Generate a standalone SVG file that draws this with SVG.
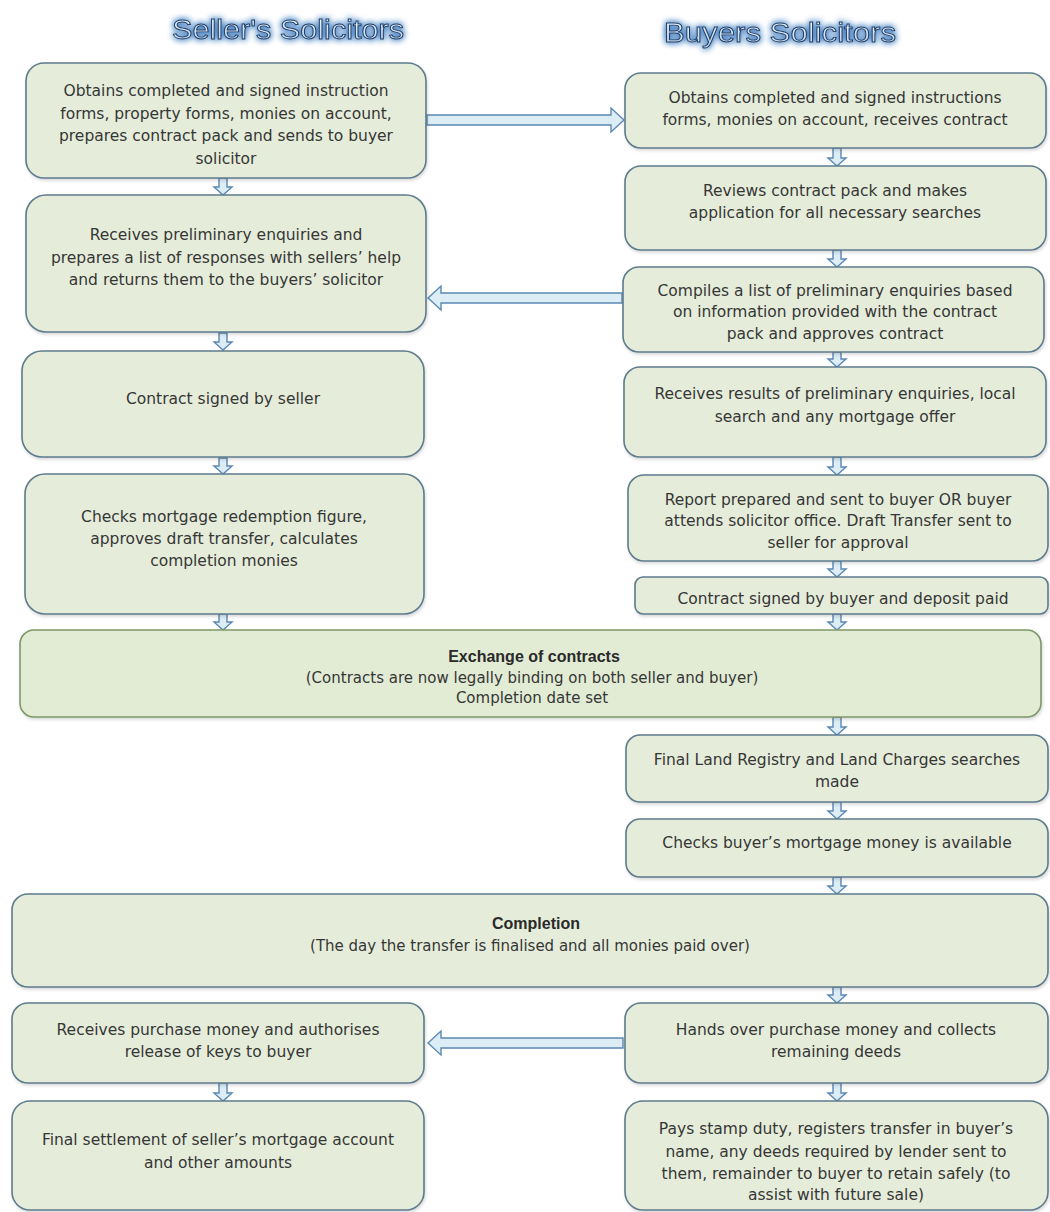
<svg xmlns="http://www.w3.org/2000/svg" width="1050" height="1212" viewBox="0 0 1050 1212">
<defs>
<filter id="glow" x="-20%" y="-60%" width="140%" height="220%">
<feGaussianBlur in="SourceAlpha" stdDeviation="3" result="b"/>
<feFlood flood-color="#2f6fb8" flood-opacity="0.9"/>
<feComposite in2="b" operator="in" result="g"/>
<feMerge><feMergeNode in="g"/><feMergeNode in="g"/><feMergeNode in="SourceGraphic"/></feMerge>
</filter>
<linearGradient id="hg" x1="0" y1="0" x2="0" y2="1">
<stop offset="0" stop-color="#f4f8fc"/>
<stop offset="1" stop-color="#b9cde2"/>
</linearGradient>
<filter id="sh" x="-5%" y="-10%" width="110%" height="125%">
<feDropShadow dx="1" dy="2" stdDeviation="1.5" flood-color="#000" flood-opacity="0.15"/>
</filter>
</defs>
<style>
.box{fill:#e5edda;stroke:#5d7b8d;stroke-width:1.6;filter:url(#sh)}
.ex{fill:#e2ecd4;stroke:#7d9868;stroke-width:1.6;filter:url(#sh)}
.t{font-family:"DejaVu Sans",sans-serif;font-size:15.5px;fill:#363636;text-anchor:middle}
.b{font-family:"Liberation Sans",Arial,sans-serif;font-size:16px;font-weight:bold;fill:#2a2a2a;text-anchor:middle}
.hd{font-family:"Liberation Sans",Arial,sans-serif;font-size:27px;fill:url(#hg);stroke:#1d3d66;stroke-width:0.9;text-anchor:middle;filter:url(#glow)}
.ar{fill:#dcedf5;stroke:#5b88b3;stroke-width:1.4;stroke-linejoin:miter}
</style>
<rect width="1050" height="1212" fill="#ffffff"/>

<g id="headers">
<text class="hd" x="288" y="39" textLength="232" lengthAdjust="spacingAndGlyphs">Seller's Solicitors</text>
<text class="hd" x="780" y="42" textLength="232" lengthAdjust="spacingAndGlyphs">Buyers Solicitors</text>
</g>

<g id="connectors">
<path class="ar" d="M427,115 H611 V108 L624,120 L611,132 V125 H427 Z"/>
<path class="ar" d="M622,293 H441 V286 L428,298 L441,310 V303 H622 Z"/>
<path class="ar" d="M623,1038 H441 V1031 L428,1043 L441,1055 V1048 H623 Z"/>
<g id="down-left">
<path class="ar" d="M219,178 h8 v9 h5 l-9,8 l-9,-8 h5 z"/>
<path class="ar" d="M219,333 h8 v9 h5 l-9,8 l-9,-8 h5 z"/>
<path class="ar" d="M219,458 h8 v8 h5 l-9,8 l-9,-8 h5 z"/>
<path class="ar" d="M219,614 h8 v8 h5 l-9,8 l-9,-8 h5 z"/>
<path class="ar" d="M219,1083 h8 v10 h5 l-9,8 l-9,-8 h5 z"/>
</g>
<g id="down-right">
<path class="ar" d="M833,148 h8 v10 h5 l-9,8 l-9,-8 h5 z"/>
<path class="ar" d="M833,250 h8 v9 h5 l-9,8 l-9,-8 h5 z"/>
<path class="ar" d="M833,352 h8 v7 h5 l-9,8 l-9,-8 h5 z"/>
<path class="ar" d="M833,457 h8 v10 h5 l-9,8 l-9,-8 h5 z"/>
<path class="ar" d="M833,561 h8 v8 h5 l-9,8 l-9,-8 h5 z"/>
<path class="ar" d="M833,614 h8 v8 h5 l-9,8 l-9,-8 h5 z"/>
<path class="ar" d="M833,717 h8 v10 h5 l-9,8 l-9,-8 h5 z"/>
<path class="ar" d="M833,802 h8 v9 h5 l-9,8 l-9,-8 h5 z"/>
<path class="ar" d="M833,877 h8 v9 h5 l-9,8 l-9,-8 h5 z"/>
<path class="ar" d="M833,987 h8 v8 h5 l-9,8 l-9,-8 h5 z"/>
<path class="ar" d="M833,1083 h8 v10 h5 l-9,8 l-9,-8 h5 z"/>
</g>
</g>

<g id="L1"><rect class="box" x="26" y="63" width="400" height="115" rx="18"/>
<text class="t" x="226" y="96">Obtains completed and signed instruction</text>
<text class="t" x="226" y="118.5">forms, property forms, monies on account,</text>
<text class="t" x="226" y="141">prepares contract pack and sends to buyer</text>
<text class="t" x="226" y="163.5">solicitor</text></g>

<g id="L2"><rect class="box" x="26" y="195" width="400" height="137" rx="20"/>
<text class="t" x="226" y="240">Receives preliminary enquiries and</text>
<text class="t" x="226" y="263">prepares a list of responses with sellers’ help</text>
<text class="t" x="226" y="285">and returns them to the buyers’ solicitor</text></g>

<g id="L3"><rect class="box" x="22" y="351" width="402" height="106" rx="20"/>
<text class="t" x="223" y="404">Contract signed by seller</text></g>

<g id="L4"><rect class="box" x="25" y="474" width="399" height="140" rx="20"/>
<text class="t" x="224" y="522">Checks mortgage redemption figure,</text>
<text class="t" x="224" y="544">approves draft transfer, calculates</text>
<text class="t" x="224" y="566">completion monies</text></g>

<g id="R1"><rect class="box" x="625" y="73" width="421" height="75" rx="16"/>
<text class="t" x="835" y="103">Obtains completed and signed instructions</text>
<text class="t" x="835" y="125">forms, monies on account, receives contract</text></g>

<g id="R2"><rect class="box" x="625" y="166" width="421" height="84" rx="16"/>
<text class="t" x="835" y="196">Reviews contract pack and makes</text>
<text class="t" x="835" y="218">application for all necessary searches</text></g>

<g id="R3"><rect class="box" x="623" y="267" width="421" height="85" rx="16"/>
<text class="t" x="835" y="296">Compiles a list of preliminary enquiries based</text>
<text class="t" x="835" y="317">on information provided with the contract</text>
<text class="t" x="835" y="339">pack and approves contract</text></g>

<g id="R4"><rect class="box" x="624" y="367" width="422" height="90" rx="16"/>
<text class="t" x="835" y="399">Receives results of preliminary enquiries, local</text>
<text class="t" x="835" y="422">search and any mortgage offer</text></g>

<g id="R5"><rect class="box" x="628" y="475" width="420" height="86" rx="16"/>
<text class="t" x="838" y="505">Report prepared and sent to buyer OR buyer</text>
<text class="t" x="838" y="526">attends solicitor office.  Draft Transfer sent to</text>
<text class="t" x="838" y="548">seller for approval</text></g>

<g id="R6"><rect class="box" x="635" y="577" width="413" height="37" rx="8"/>
<text class="t" x="843" y="604">Contract signed by buyer and deposit paid</text></g>

<g id="EX"><rect class="ex" x="20" y="630" width="1021" height="87" rx="14"/>
<text class="b" x="534" y="662">Exchange of contracts</text>
<text class="t" x="532" y="683" style="font-size:15px">(Contracts are now legally binding on both seller and buyer)</text>
<text class="t" x="532" y="703" style="font-size:15px">Completion date set</text></g>

<g id="R7"><rect class="box" x="626" y="735" width="422" height="67" rx="14"/>
<text class="t" x="837" y="765">Final Land Registry and Land Charges searches</text>
<text class="t" x="837" y="787">made</text></g>

<g id="R8"><rect class="box" x="626" y="819" width="422" height="58" rx="14"/>
<text class="t" x="837" y="848">Checks buyer’s mortgage money is available</text></g>

<g id="COMP"><rect class="box" x="12" y="894" width="1036" height="93" rx="16"/>
<text class="b" x="536" y="929">Completion</text>
<text class="t" x="530" y="951" style="font-size:15px">(The day the transfer is finalised and all monies paid over)</text></g>

<g id="L9"><rect class="box" x="12" y="1003" width="412" height="80" rx="16"/>
<text class="t" x="218" y="1035">Receives purchase money and authorises</text>
<text class="t" x="218" y="1057">release of keys to buyer</text></g>

<g id="R9"><rect class="box" x="625" y="1003" width="423" height="80" rx="16"/>
<text class="t" x="836" y="1035">Hands over purchase money and collects</text>
<text class="t" x="836" y="1057">remaining deeds</text></g>

<g id="L10"><rect class="box" x="12" y="1101" width="412" height="109" rx="18"/>
<text class="t" x="218" y="1145">Final settlement of seller’s mortgage account</text>
<text class="t" x="218" y="1168">and other amounts</text></g>

<g id="R10"><rect class="box" x="625" y="1101" width="423" height="109" rx="18"/>
<text class="t" x="836" y="1134">Pays stamp duty, registers transfer in buyer’s</text>
<text class="t" x="836" y="1157">name, any deeds required by lender sent to</text>
<text class="t" x="836" y="1179">them, remainder to buyer to retain safely (to</text>
<text class="t" x="836" y="1200">assist with future sale)</text></g>
</svg>
